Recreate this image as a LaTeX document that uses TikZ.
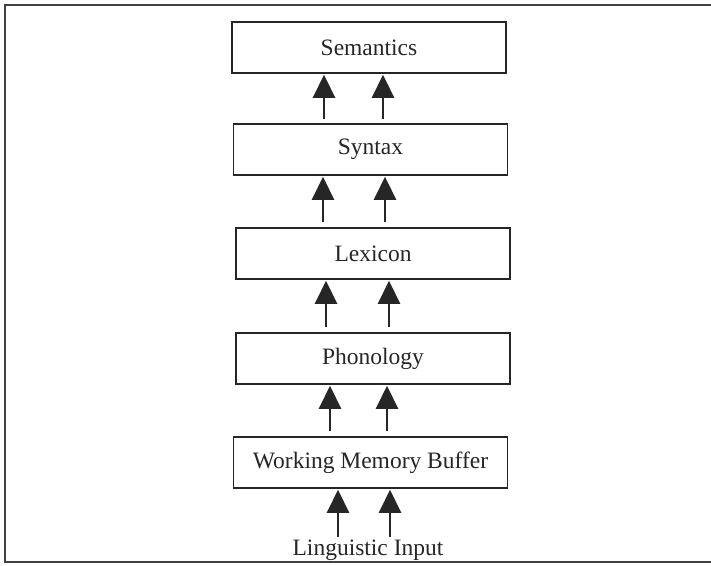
\documentclass[tikz,border=0pt]{standalone}
\usepackage{fontspec}
\setmainfont{Liberation Serif}
\usetikzlibrary{arrows.meta}
\begin{document}
\begin{tikzpicture}[x=1pt,y=-1pt,
  layer/.style={draw=black!85, line width=1.6pt, minimum width=274pt, minimum height=51pt, inner sep=0pt, font=\fontsize{23.5}{28}\selectfont, text=black!85},
  up/.style={draw=black!85, line width=2.6pt, -{Triangle[width=22pt,length=23pt]}, shorten >=1pt},
  lbl/.style={font=\fontsize{23.5}{28}\selectfont, text=black!85, inner sep=0pt}]
\useasboundingbox (0,0) rectangle (711,565);
\clip (0,0) rectangle (711,565);
\draw[black!75, line width=2pt] (5,4.5) rectangle (716,562);
\node[layer] (sem) at (369,47.5) {Semantics};
\node[layer] (syn) at (370.5,149.5) {Syntax};
\node[layer] (lex) at (373,253.5) {Lexicon};
\node[layer] (pho) at (373,358.5) {Phonology};
\node[layer] (wmb) at (370.5,462.5) {Working Memory Buffer};
\node[lbl, anchor=base] (inp) at (368,555) {Linguistic Input};
\coordinate (a1) at (324,119); \coordinate (a2) at (383,119);
\coordinate (b1) at (323,222); \coordinate (b2) at (385,222);
\coordinate (c1) at (326,327); \coordinate (c2) at (389,327);
\coordinate (d1) at (330,431); \coordinate (d2) at (387,431);
\coordinate (e1) at (338,537); \coordinate (e2) at (390,537);
\draw[up] (a1) -- (a1 |- sem.south);
\draw[up] (a2) -- (a2 |- sem.south);
\draw[up] (b1) -- (b1 |- syn.south);
\draw[up] (b2) -- (b2 |- syn.south);
\draw[up] (c1) -- (c1 |- lex.south);
\draw[up] (c2) -- (c2 |- lex.south);
\draw[up] (d1) -- (d1 |- pho.south);
\draw[up] (d2) -- (d2 |- pho.south);
\draw[up] (e1) -- (e1 |- wmb.south);
\draw[up] (e2) -- (e2 |- wmb.south);
\end{tikzpicture}
\end{document}
